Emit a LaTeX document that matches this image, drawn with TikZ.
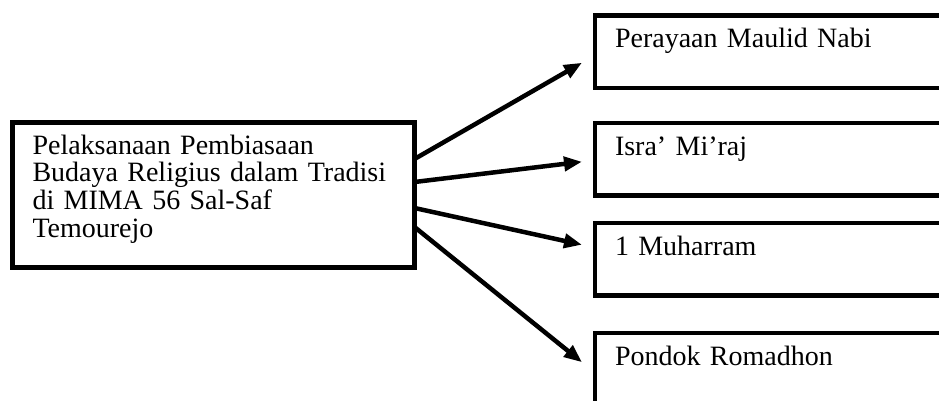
\documentclass[tikz,border=0pt]{standalone}
\usepackage{fontspec}
\setmainfont{Liberation Serif}
\usetikzlibrary{positioning,arrows.meta}

\begin{document}
\begin{tikzpicture}[
  x=1pt, y=1pt,
  font=\fontsize{28}{27.8}\selectfont,
  node distance=0pt,
  >={Triangle[length=18pt,width=14pt]},
  % --- boxes ---
  mainbox/.style={draw=black, line width=5pt, outer sep=0pt, inner xsep=20pt, inner ysep=0pt,
    text width=362pt, align=left, text height=31pt, text depth=113pt},
  itembox/.style={draw=black, line width=4.5pt, outer sep=0pt, inner xsep=20pt, inner ysep=0pt,
    text width=360pt, align=left, text height=32pt, text depth=40.5pt},
  % --- arrows ---
  link/.style={->, line width=4.5pt},
]
\clip (0,0) rectangle (939,-401);

% =================== MAIN BOX ===================
\node[mainbox, anchor=north west] (lbox) at (12.5,-123)
  {Pelaksanaan Pembiasaan\\Budaya Religius dalam Tradisi\\di MIMA 56 Sal-Saf\\Temourejo};

% =================== TRADITIONS ===================
\node[itembox, anchor=north west] (maulid) at (595,-15.5) {Perayaan Maulid Nabi};
\node[itembox, below=35pt of maulid] (isra) {Isra’ Mi’raj};
\node[itembox, below=27.5pt of isra] (muharram) {1 Muharram};
\node[itembox, below=37.5pt of muharram] (pondok) {Pondok Romadhon};

% =================== RELATIONS ===================
\draw[link] ([yshift=36pt]lbox.east) -- ([xshift=-13pt,yshift=-11pt]maulid.west);
\draw[link] ([yshift=13pt]lbox.east) -- ([xshift=-13pt,yshift=-2.5pt]isra.west);
\draw[link] ([yshift=-13pt]lbox.east) -- ([xshift=-13pt,yshift=14.5pt]muharram.west);
\draw[link] ([yshift=-32pt]lbox.east) -- ([xshift=-13pt,yshift=7pt]pondok.west);

\end{tikzpicture}
\end{document}
